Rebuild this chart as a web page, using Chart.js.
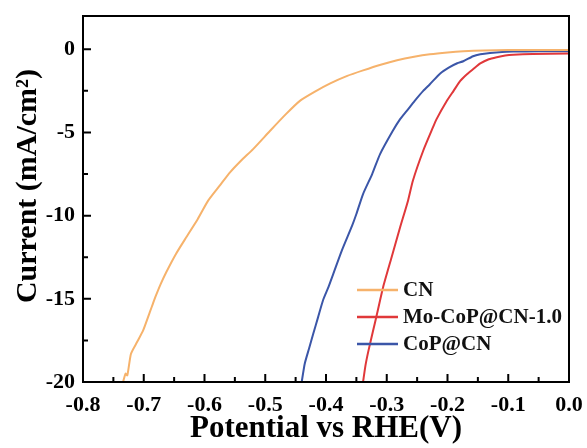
<!DOCTYPE html>
<html>
<head>
<meta charset="utf-8">
<script src="https://cdn.jsdelivr.net/npm/chart.js@4.4.0/dist/chart.umd.min.js"></script>
<style>
  body { margin: 0; background: #fff; }
  #wrap { width: 587px; height: 448px; }
</style>
</head>
<body>
<div id="wrap"><canvas id="lsv" width="587" height="448"></canvas></div>
<script>
const seriesNames = ['CN', 'Mo-CoP@CN-1.0', 'CoP@CN'];
const seriesColors = ['#f6b26b', '#e0383a', '#3b56a8'];

// [potential V, current mA/cm2]
const cnPoints = [
  [-0.734, -20.0], [-0.730, -19.5], [-0.727, -19.6], [-0.721, -18.3], [-0.711, -17.6],
  [-0.701, -16.9], [-0.690, -15.8], [-0.685, -15.3], [-0.681, -14.9], [-0.672, -14.1],
  [-0.663, -13.4], [-0.647, -12.3], [-0.630, -11.3], [-0.611, -10.2], [-0.594, -9.1],
  [-0.575, -8.2], [-0.558, -7.4], [-0.540, -6.7], [-0.520, -6.0], [-0.492, -4.9],
  [-0.466, -3.9], [-0.443, -3.1], [-0.416, -2.5], [-0.393, -2.05], [-0.365, -1.6],
  [-0.339, -1.27], [-0.310, -0.93], [-0.283, -0.66], [-0.255, -0.45], [-0.229, -0.30],
  [-0.200, -0.19], [-0.174, -0.12], [-0.140, -0.07], [-0.100, -0.05], [-0.050, -0.04],
  [0.000, -0.04]
];
const moCoPPoints = [
  [-0.339, -20.0], [-0.335, -19.0], [-0.330, -18.1], [-0.323, -17.0], [-0.316, -15.9],
  [-0.306, -14.3], [-0.292, -12.5], [-0.278, -10.7], [-0.265, -9.1], [-0.257, -7.9],
  [-0.240, -6.1], [-0.224, -4.7], [-0.218, -4.2], [-0.201, -3.1], [-0.190, -2.5],
  [-0.179, -1.9], [-0.168, -1.5], [-0.158, -1.2], [-0.146, -0.85], [-0.132, -0.6],
  [-0.119, -0.48], [-0.105, -0.38], [-0.092, -0.33], [-0.060, -0.28], [0.000, -0.25]
];
const coPPoints = [
  [-0.440, -20.0], [-0.435, -18.9], [-0.428, -18.0], [-0.421, -17.1], [-0.413, -16.1],
  [-0.405, -15.1], [-0.396, -14.3], [-0.388, -13.5], [-0.374, -12.1], [-0.357, -10.6],
  [-0.350, -9.9], [-0.339, -8.7], [-0.324, -7.5], [-0.311, -6.3], [-0.290, -4.9],
  [-0.278, -4.2], [-0.267, -3.7], [-0.254, -3.1], [-0.240, -2.5], [-0.229, -2.1],
  [-0.212, -1.45], [-0.198, -1.1], [-0.184, -0.84], [-0.174, -0.72], [-0.158, -0.42],
  [-0.146, -0.30], [-0.130, -0.22], [-0.110, -0.16], [-0.092, -0.14], [-0.050, -0.12],
  [0.000, -0.12]
];

const xTicks = [-0.8, -0.7, -0.6, -0.5, -0.4, -0.3, -0.2, -0.1, 0.0];
const yTicks = [0, -5, -10, -15, -20];
const yTitle = 'Current (mA/cm²)';

const serif = "'Liberation Serif', 'Times New Roman', serif";
const toXY = pts => pts.map(p => ({ x: p[0], y: p[1] }));

// inward ticks, closed frame and the y title
const framePlugin = {
  id: 'frame',
  afterDraw(chart) {
    const { ctx, chartArea: a, scales } = chart;
    ctx.save();
    ctx.strokeStyle = '#000';
    ctx.lineWidth = 2;
    ctx.strokeRect(a.left, a.top, a.right - a.left, a.bottom - a.top);
    ctx.beginPath();
    xTicks.forEach((v, i) => {
      const px = scales.x.getPixelForValue(v);
      ctx.moveTo(px, a.bottom); ctx.lineTo(px, a.bottom - 8);
      if (i < xTicks.length - 1) {
        const mx = scales.x.getPixelForValue((v + xTicks[i + 1]) / 2);
        ctx.moveTo(mx, a.bottom); ctx.lineTo(mx, a.bottom - 5);
      }
    });
    yTicks.forEach((v, i) => {
      const py = scales.y.getPixelForValue(v);
      ctx.moveTo(a.left, py); ctx.lineTo(a.left + 8, py);
      if (i < yTicks.length - 1) {
        const my = scales.y.getPixelForValue((v + yTicks[i + 1]) / 2);
        ctx.moveTo(a.left, my); ctx.lineTo(a.left + 5, my);
      }
    });
    ctx.stroke();

    ctx.translate(28, 186);
    ctx.rotate(-Math.PI / 2);
    ctx.font = 'bold 30px ' + serif;
    ctx.fillStyle = '#000';
    ctx.textAlign = 'center';
    ctx.textBaseline = 'middle';
    ctx.fillText(yTitle, 0, 0);
    ctx.restore();
  }
};

const legendPlugin = {
  id: 'inLegend',
  afterDraw(chart) {
    const ctx = chart.ctx;
    ctx.save();
    ctx.font = 'bold 21px ' + serif;
    ctx.textBaseline = 'middle';
    chart.data.datasets.forEach((ds, i) => {
      const y = 290 + i * 27;
      ctx.strokeStyle = ds.borderColor;
      ctx.lineWidth = 2.5;
      ctx.beginPath();
      ctx.moveTo(357, y); ctx.lineTo(398, y);
      ctx.stroke();
      ctx.fillStyle = '#111';
      ctx.fillText(ds.label, 403, y + 1);
    });
    ctx.restore();
  }
};

new Chart(document.getElementById('lsv'), {
  type: 'scatter',
  data: {
    datasets: [cnPoints, moCoPPoints, coPPoints].map((pts, i) => ({
      label: seriesNames[i],
      data: toXY(pts),
      showLine: true,
      borderColor: seriesColors[i],
      backgroundColor: seriesColors[i],
      borderWidth: 2,
      pointRadius: 0,
      tension: 0.2
    }))
  },
  options: {
    responsive: false,
    animation: false,
    layout: { padding: { top: 16, right: 18, left: 0, bottom: 0 } },
    plugins: { legend: { display: false }, tooltip: { enabled: false } },
    scales: {
      x: {
        type: 'linear',
        min: -0.8,
        max: 0,
        grid: { display: false, drawTicks: false },
        border: { display: false },
        afterBuildTicks: s => { s.ticks = xTicks.map(v => ({ value: v })); },
        afterFit: s => { s.height = 66; s.paddingLeft = 0; s.paddingRight = 0; },
        ticks: {
          color: '#000',
          padding: 10,
          maxRotation: 0,
          autoSkip: false,
          font: { family: serif, size: 22, weight: 'bold' },
          callback: v => v.toFixed(1)
        },
        title: {
          display: true,
          text: 'Potential vs RHE(V)',
          color: '#000',
          padding: { top: 0, bottom: 0 },
          font: { family: serif, size: 31, weight: 'bold' }
        }
      },
      y: {
        min: -20,
        max: 2,
        grid: { display: false, drawTicks: false },
        border: { display: false },
        afterBuildTicks: s => { s.ticks = yTicks.map(v => ({ value: v })); },
        afterFit: s => { s.width = 83; s.paddingTop = 0; s.paddingBottom = 0; },
        ticks: {
          color: '#000',
          padding: 8,
          font: { family: serif, size: 22, weight: 'bold' }
        }
      }
    }
  },
  plugins: [framePlugin, legendPlugin]
});
</script>
</body>
</html>
